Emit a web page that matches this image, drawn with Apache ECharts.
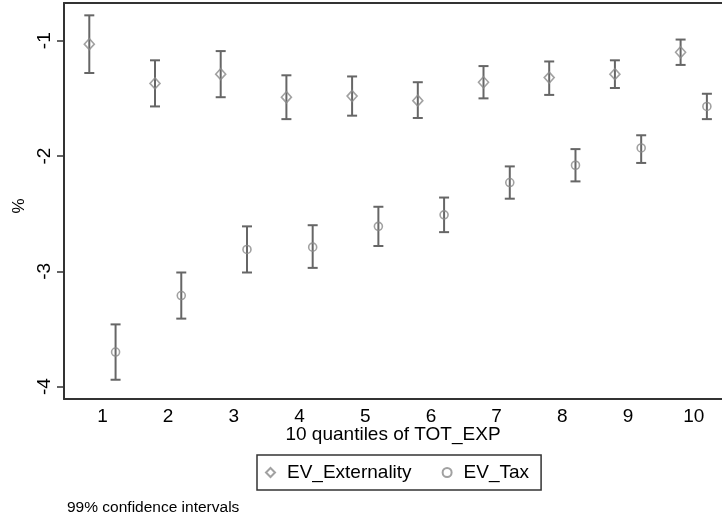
<!DOCTYPE html>
<html>
<head>
<meta charset="utf-8">
<script src="https://cdn.jsdelivr.net/npm/echarts@6/dist/echarts.min.js"></script>
<style>
html,body{margin:0;padding:0;background:#fff;}
#chart{width:722px;height:518px;}
</style>
</head>
<body>
<div id="chart"></div>
<script>
const quantiles = [1, 2, 3, 4, 5, 6, 7, 8, 9, 10];
const extMean = [-1.03, -1.37, -1.29, -1.49, -1.48, -1.52, -1.36, -1.32, -1.29, -1.10];
const extHi   = [-0.78, -1.17, -1.09, -1.30, -1.31, -1.36, -1.22, -1.18, -1.17, -0.99];
const extLo   = [-1.28, -1.57, -1.49, -1.68, -1.65, -1.67, -1.50, -1.47, -1.41, -1.21];
const taxMean = [-3.70, -3.21, -2.81, -2.79, -2.61, -2.51, -2.23, -2.08, -1.93, -1.57];
const taxHi   = [-3.46, -3.01, -2.61, -2.60, -2.44, -2.36, -2.09, -1.94, -1.82, -1.46];
const taxLo   = [-3.94, -3.41, -3.01, -2.97, -2.78, -2.66, -2.37, -2.22, -2.06, -1.68];
const yTicks = [-4, -3, -2, -1];
const xLabel = '10 quantiles of TOT_EXP';
const yLabel = '%';
const note = '99% confidence intervals';
const names = ['EV_Externality', 'EV_Tax'];

const dodge = 0.2;
const FONT = '"Liberation Sans", Arial, sans-serif';
const markerColor = '#8a8a8a';
const barColor = '#666666';

function ciData(means, lo, hi, off) {
  return quantiles.map((q, i) => [q + off, lo[i], hi[i]]);
}
function ptData(means, off) {
  return quantiles.map((q, i) => [q + off, means[i]]);
}
function renderBar(params, api) {
  const x = api.value(0);
  const lo = api.coord([x, api.value(1)]);
  const hi = api.coord([x, api.value(2)]);
  const w = 5;
  const st = {stroke: barColor, lineWidth: 2};
  return {
    type: 'group',
    children: [
      {type: 'line', shape: {x1: lo[0], y1: lo[1], x2: hi[0], y2: hi[1]}, style: st},
      {type: 'line', shape: {x1: lo[0] - w, y1: lo[1], x2: lo[0] + w, y2: lo[1]}, style: st},
      {type: 'line', shape: {x1: hi[0] - w, y1: hi[1], x2: hi[0] + w, y2: hi[1]}, style: st}
    ]
  };
}

const chart = echarts.init(document.getElementById('chart'), null, {renderer: 'canvas'});
chart.setOption({
  animation: false,
  backgroundColor: '#fff',
  textStyle: {fontFamily: FONT},
  grid: {left: 64, top: 3, right: 0, bottom: 119},
  xAxis: [{
    type: 'value', min: 0.415, max: 10.43,
    splitLine: {show: false},
    axisLine: {show: true, onZero: false, lineStyle: {color: '#333', width: 2}},
    axisTick: {show: false},
    axisLabel: {customValues: quantiles, color: '#000', fontSize: 19, fontFamily: FONT, margin: 8},
    name: xLabel, nameLocation: 'middle', nameGap: 26, nameMoveOverlap: false,
    nameTextStyle: {color: '#000', fontSize: 19, fontFamily: FONT}
  }, {
    type: 'value', position: 'top', min: 0.415, max: 10.43,
    splitLine: {show: false},
    axisLine: {show: true, onZero: false, lineStyle: {color: '#333', width: 2}},
    axisTick: {show: false}, axisLabel: {show: false}
  }],
  yAxis: {
    type: 'value', min: -4.107, max: -0.673,
    splitLine: {show: false},
    axisLine: {show: true, onZero: false, lineStyle: {color: '#333', width: 2}},
    axisTick: {show: true, customValues: yTicks, length: 7, lineStyle: {color: '#333', width: 1.5}},
    axisLabel: {customValues: yTicks, rotate: 90, color: '#000', fontSize: 19, fontFamily: FONT, margin: 10}
  },
  legend: {
    left: 257, top: 455,
    orient: 'horizontal',
    data: names,
    itemWidth: 9, itemHeight: 9, itemGap: 30,
    padding: [8, 12, 8, 8],
    borderColor: '#333', borderWidth: 1.5,
    textStyle: {color: '#000', fontSize: 19, fontFamily: FONT, padding: [0, 0, 0, 7]}
  },
  graphic: [{
    type: 'text', left: 67, top: 500,
    style: {text: note, fill: '#000', font: '15.5px ' + FONT}
  }, {
    type: 'text', x: 19, y: 206, rotation: Math.PI / 2,
    style: {text: yLabel, fill: '#000', font: '17px ' + FONT, align: 'center', verticalAlign: 'middle'}
  }],
  series: [
    {type: 'custom', name: 'ci_ext', renderItem: renderBar, data: ciData(extMean, extLo, extHi, -dodge), z: 1, silent: true},
    {type: 'custom', name: 'ci_tax', renderItem: renderBar, data: ciData(taxMean, taxLo, taxHi, dodge), z: 1, silent: true},
    {type: 'scatter', name: names[0], symbol: 'diamond', symbolSize: [10, 11], data: ptData(extMean, -dodge), z: 3,
      itemStyle: {color: 'rgba(255,255,255,0)', borderColor: markerColor, borderWidth: 1.6}},
    {type: 'scatter', name: names[1], symbol: 'circle', symbolSize: 8, data: ptData(taxMean, dodge), z: 3,
      itemStyle: {color: 'rgba(255,255,255,0)', borderColor: markerColor, borderWidth: 1.6}}
  ]
});
</script>
</body>
</html>
